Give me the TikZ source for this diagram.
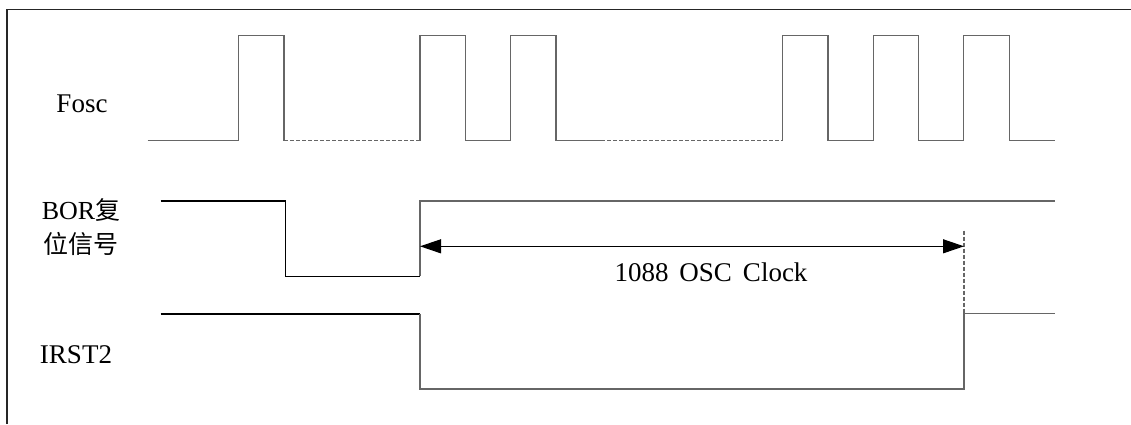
\documentclass[tikz,border=0pt]{standalone}
\usepackage{fontspec}
\setmainfont{Liberation Serif}
\newfontfamily\cjk{Noto Sans CJK SC}
\usetikzlibrary{arrows.meta}
\definecolor{wave}{HTML}{666666}
\newcommand{\cjktext}[1]{{\cjk\fontsize{25}{34}\selectfont #1}}
\begin{document}
\begin{tikzpicture}[x=1pt,y=-1pt,
  sig/.style={draw=wave,line width=1.3pt},
  sigdark/.style={draw=black,line width=1.3pt},
  gap/.style={draw=wave,line width=1.1pt,dash pattern=on 4pt off 2pt},
  lbl/.style={font=\fontsize{27}{34}\selectfont,inner sep=0pt,anchor=base},
  span/.style={draw=black,line width=1.1pt,{Triangle[length=21pt,width=14pt]}-{Triangle[length=21pt,width=14pt]}}]
\useasboundingbox (0,0) rectangle (1131,424);
% outer frame, open at the right and bottom edges
\draw[draw=black!85,line width=1.2pt] (7,424) -- (7,9.5) -- (1131,9.5);

% labels
\node[lbl] (fosc) at (82,112) {Fosc};
\node[font=\fontsize{26}{34}\selectfont,inner sep=0pt,align=center] (bor) at (81,227) {BOR\cjktext{复}\\\cjktext{位信号}};
\node[lbl] (irst) at (76,363) {IRST2};
\node[lbl] (clk) at (711,281) {1088\hspace{11pt}OSC\hspace{11pt}Clock};

% Fosc: single pulse, gap, two pulses, gap, three pulses
\draw[sig] (147.7,140.7) -- (238.7,140.7) -- (238.7,35.7) -- (284,35.7) -- (284,140.7);
\draw[gap] (284,140.7) -- (420,140.7);
\draw[sig] (420,140.7) -- (420,35.7) -- (465.3,35.7) -- (465.3,140.7) -- (510.3,140.7)
  -- (510.3,35.7) -- (556,35.7) -- (556,140.7) -- (601,140.7);
\draw[gap] (601,140.7) -- (782.3,140.7);
\draw[sig] (782.3,140.7) -- (782.3,35.7) -- (828,35.7) -- (828,140.7) -- (873.3,140.7)
  -- (873.3,35.7) -- (918.7,35.7) -- (918.7,140.7) -- (963.7,140.7)
  -- (963.7,35.7) -- (1009.3,35.7) -- (1009.3,140.7) -- (1054.7,140.7);

% BOR reset signal
\draw[sigdark] (160.7,201) -- (285.7,201) -- (285.7,276.3) -- (420,276.3);
\draw[sig] (420,276.3) -- (420,201) -- (1054.7,201);

% IRST2
\draw[sigdark,line width=1.8pt] (160.7,313.7) -- (420,313.7);
\draw[sig] (420,313.7) -- (420,389) -- (964,389) -- (964,313.7) -- (1054.7,313.7);

% 1088 clock interval
\coordinate (ta) at (420,246.3);
\coordinate (tb) at (964,246.3);
\coordinate (tm) at (964,230.7);
\coordinate (tl) at (964,313.7);
\draw[gap] (tm) -- (tl);
\draw[span] (ta) -- (tb);
\end{tikzpicture}
\end{document}
